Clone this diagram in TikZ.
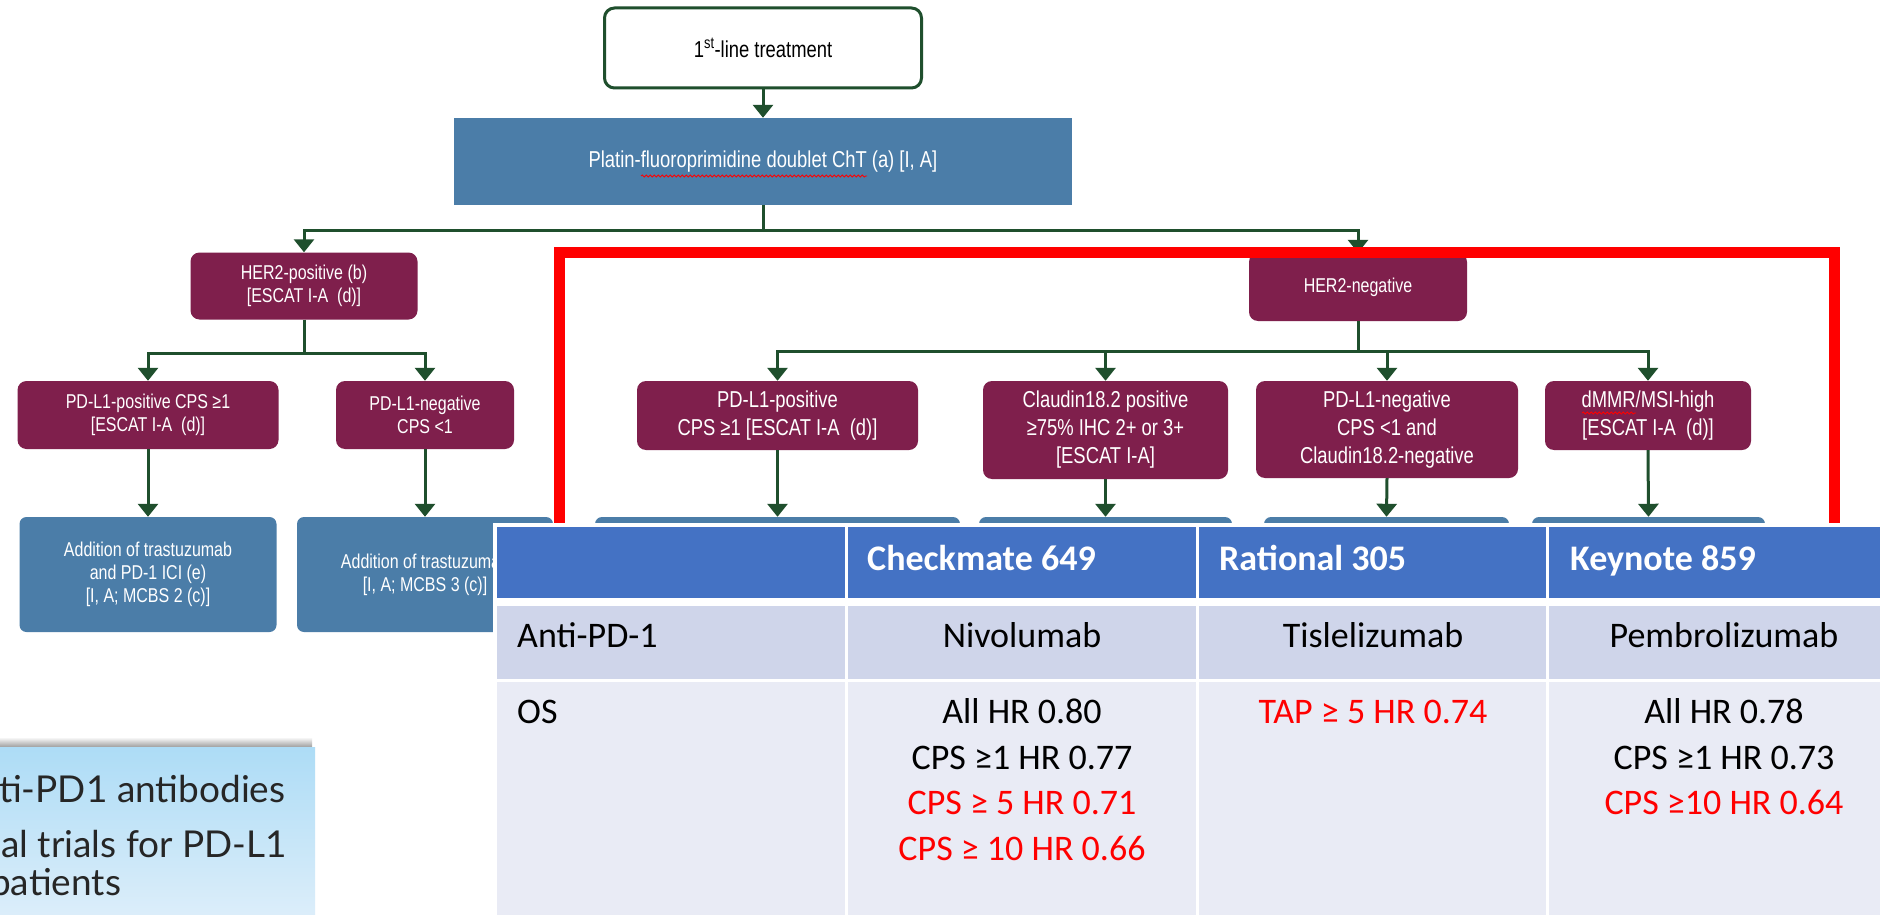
\documentclass[tikz,border=0pt]{standalone}
\usepackage{fontspec}
\setmainfont{Liberation Sans}
\newfontfamily\tf[FakeStretch=0.8]{Liberation Sans}
\newfontfamily\tabfont{Carlito}
\newfontfamily\notefont{Lato}
\usetikzlibrary{arrows.meta,decorations.pathmorphing}
\definecolor{boxmaroon}{HTML}{7F1F4C}
\definecolor{boxblue}{HTML}{4B7DA8}
\definecolor{linegreen}{HTML}{1F4F2D}
\definecolor{hdrblue}{HTML}{4472C4}
\definecolor{rowa}{HTML}{CFD5EA}
\definecolor{rowb}{HTML}{E9EBF5}
\definecolor{notetop}{HTML}{ADDCF6}
\definecolor{notebot}{HTML}{DDEEFA}
\definecolor{frame}{HTML}{FF0000}
\tikzset{
  mbox/.style={fill=boxmaroon, rounded corners=9pt, text=white, align=center, inner sep=0pt,
    font=\tf\fontsize{20}{23}\selectfont},
  mboxr/.style={mbox, font=\tf\fontsize{23}{28}\selectfont},
  bbox/.style={fill=boxblue, rounded corners=7pt, text=white, align=center, inner sep=0pt,
    font=\tf\fontsize{20}{23}\selectfont},
  conn/.style={draw=linegreen, line width=3pt},
  arr/.style={conn, -{Triangle[width=20pt,length=13pt]}},
  squiggle/.style={draw=red, line width=0.8pt, decorate, decoration={snake, amplitude=1.1pt, segment length=4pt}},
  tabtxt/.style={inner sep=0pt, font=\tabfont\fontsize{36}{44}\selectfont},
  hdrtxt/.style={tabtxt, text=white, font=\tabfont\bfseries\fontsize{36}{44}\selectfont, anchor=base west},
  redtxt/.style={tabtxt, text=frame, anchor=base},
  blktxt/.style={tabtxt, text=black, anchor=base},
  notetxt/.style={inner sep=0pt, anchor=base west, text=black!85, font=\notefont\fontsize{37}{44}\selectfont}
}
\begin{document}
\begin{tikzpicture}[x=1pt,y=-1pt]
\useasboundingbox (0,0) rectangle (1880,915);
\clip (0,0) rectangle (1880,915);
\fill[white] (0,0) rectangle (1880,915);

% ---------------- tree ----------------
\node[draw=linegreen, line width=3pt, fill=white, rounded corners=10pt, minimum width=317pt, minimum height=80pt,
      inner sep=0pt, font=\tf\fontsize{23}{27}\selectfont] (top) at (763,48) {1\textsuperscript{st}-line treatment};
\node[fill=boxblue, minimum width=618pt, minimum height=87pt, inner sep=0pt, text=white,
      font=\tf\fontsize{23}{27}\selectfont] (platin) at (763,161.5) {Platin-fluoroprimidine doublet ChT (a) [I, A]};
\draw[squiggle] (641,176) -- (867,176);

\node[mbox, minimum width=227pt, minimum height=67pt] (her2pos) at (304,286) {HER2-positive (b)\\{[ESCAT I-A~~(d)]}};
\node[mbox, minimum width=218pt, minimum height=68pt] (her2neg) at (1358,287) {HER2-negative};

\node[mbox, minimum width=261pt, minimum height=68pt] (pdposL) at (148,415) {PD-L1-positive CPS ≥1\\{[ESCAT I-A~~(d)]}};
\node[mbox, minimum width=178pt, minimum height=68pt] (pdnegL) at (425,415) {PD-L1-negative\\CPS <1};

\node[bbox, minimum width=257pt, minimum height=115pt] (addL1) at (148,574.5) {Addition of trastuzumab\\and PD-1 ICI (e)\\{[I, A; MCBS 2 (c)]}};
\node[bbox, minimum width=256pt, minimum height=115pt] (addL2) at (425,574.5) {Addition of trastuzumab\\{[I, A; MCBS 3 (c)]}};

\node[mboxr, minimum width=281pt, minimum height=69pt] (pdposR) at (777.5,415.5) {PD-L1-positive\\CPS ≥1 [ESCAT I-A~~(d)]};
\node[mboxr, minimum width=245pt, minimum height=98pt] (claudin) at (1105.5,430) {Claudin18.2 positive\\≥75\% IHC 2+ or 3+\\{[ESCAT I-A]}};
\node[mboxr, minimum width=262pt, minimum height=97pt] (pdnegR) at (1387,429.5) {PD-L1-negative\\CPS <1 and\\Claudin18.2-negative};
\node[mboxr, minimum width=206pt, minimum height=69pt] (dmmr) at (1648,415.5) {dMMR/MSI-high\\{[ESCAT I-A~~(d)]}};
\draw[squiggle] (1582,413) -- (1636,413);

\node[bbox, minimum width=365pt, minimum height=130pt] (trtR1) at (777.5,582) {};
\node[bbox, minimum width=253pt, minimum height=130pt] (trtR2) at (1105.5,582) {};
\node[bbox, minimum width=245pt, minimum height=130pt] (trtR3) at (1386.5,582) {};
\node[bbox, minimum width=233pt, minimum height=130pt] (trtR4) at (1648.5,582) {};

\coordinate (j0) at (763,230);
\coordinate (j1) at (304,353);
\coordinate (j2) at (1358,351);
\draw[arr] (top.south) -- (platin.north);
\draw[conn] (platin.south) -- (j0);
\draw[arr] (j0) -| (her2pos.north);
\draw[arr] (j0) -| (her2neg.north);
\draw[conn] (her2pos.south) -- (j1);
\draw[arr] (j1) -| (pdposL.north);
\draw[arr] (j1) -| (pdnegL.north);
\draw[arr] (pdposL.south) -- (addL1.north);
\draw[arr] (pdnegL.south) -- (addL2.north);
\draw[conn] (her2neg.south) -- (j2);
\draw[arr] (j2) -| (pdposR.north);
\draw[arr] (j2) -| (claudin.north);
\draw[arr] (j2) -| (pdnegR.north);
\draw[arr] (j2) -| (dmmr.north);
\draw[arr] (pdposR.south) -- (trtR1.north);
\draw[arr] (claudin.south) -- (trtR2.north);
\draw[arr] (pdnegR.south) -- (trtR3.north);
\draw[arr] (dmmr.south) -- (trtR4.north);

% ---------------- red frame ----------------
\draw[frame, line width=11pt, line join=miter] (559.5,525) -- (559.5,252) -- (1834,252) -- (1834,525);

% ---------------- table ----------------
\fill[white] (493,523) rectangle (1880,915);
\fill[hdrblue] (497,527) rectangle (844.5,598);
\fill[hdrblue] (847.5,527) rectangle (1195.5,598);
\fill[hdrblue] (1198.5,527) rectangle (1545.5,598);
\fill[hdrblue] (1548.5,527) rectangle (1880,598);
\fill[rowa] (497,606) rectangle (844.5,679);
\fill[rowa] (847.5,606) rectangle (1195.5,679);
\fill[rowa] (1198.5,606) rectangle (1545.5,679);
\fill[rowa] (1548.5,606) rectangle (1880,679);
\fill[rowb] (497,682) rectangle (844.5,915);
\fill[rowb] (847.5,682) rectangle (1195.5,915);
\fill[rowb] (1198.5,682) rectangle (1545.5,915);
\fill[rowb] (1548.5,682) rectangle (1880,915);

\node[hdrtxt] (h2) at (867,570) {Checkmate 649};
\node[hdrtxt] (h3) at (1219,570) {Rational 305};
\node[hdrtxt] (h4) at (1570,570) {Keynote 859};

\node[blktxt, anchor=base west] (r1) at (517,647) {Anti-PD-1};
\node[blktxt] (r1c2) at (1022,647) {Nivolumab};
\node[blktxt] (r1c3) at (1373,647) {Tislelizumab};
\node[blktxt] (r1c4) at (1724,647) {Pembrolizumab};

\node[blktxt, anchor=base west] (r2) at (517,723) {OS};
\node[blktxt] (c2a) at (1022,723) {All HR 0.80};
\node[blktxt] (c2b) at (1022,769) {CPS ≥1 HR 0.77};
\node[redtxt] (c2c) at (1022,814) {CPS ≥ 5 HR 0.71};
\node[redtxt] (c2d) at (1022,860) {CPS ≥ 10 HR 0.66};
\node[redtxt] (c3a) at (1373,723) {TAP ≥ 5 HR 0.74};
\node[blktxt] (c4a) at (1724,723) {All HR 0.78};
\node[blktxt] (c4b) at (1724,769) {CPS ≥1 HR 0.73};
\node[redtxt] (c4c) at (1724,814) {CPS ≥10 HR 0.64};

% ---------------- note box ----------------
\shade[top color=white, bottom color=black!40] (-5,737) rectangle (312,747.5);
\shade[top color=notetop, bottom color=notebot] (-5,747) rectangle (315,920);
\node[notetxt] (n1) at (-1,802) {ti-PD1 antibodies};
\node[notetxt] (n2) at (1,857) {al trials for PD-L1};
\node[notetxt] (n3) at (-10,895) {patients};
\end{tikzpicture}
\end{document}
